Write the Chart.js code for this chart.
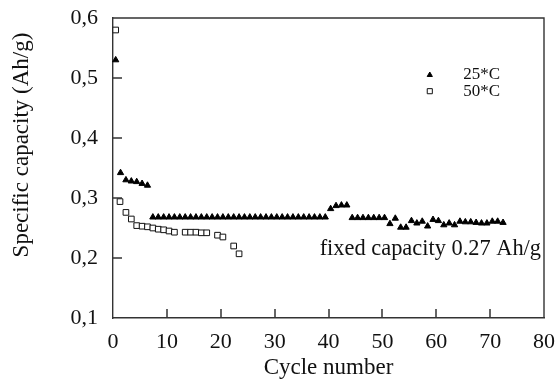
<!DOCTYPE html>
<html lang="en">
<head>
  <meta charset="UTF-8">
  <title>Specific capacity vs cycle number</title>
  <script src="https://cdn.jsdelivr.net/npm/chart.js@4.4.0/dist/chart.umd.min.js"></script>
  <style>
    html, body { margin: 0; padding: 0; background: #fff; }
    #wrap { width: 560px; height: 382px; }
  </style>
</head>
<body>
  <div id="wrap"><canvas id="chart" width="560" height="382"></canvas></div>

  <script>
    // 25*C (filled triangles)
    const cycles25 = [0.5, 1.4, 2.4, 3.4, 4.4, 5.4, 6.4, 7.4, 8.4, 9.4, 10.4, 11.4, 12.4, 13.4, 14.4,
      15.4, 16.4, 17.4, 18.4, 19.4, 20.4, 21.4, 22.4, 23.4, 24.4, 25.4, 26.4, 27.4, 28.4, 29.4,
      30.4, 31.4, 32.4, 33.4, 34.4, 35.4, 36.4, 37.4, 38.4, 39.4, 40.4, 41.4, 42.4, 43.4, 44.4,
      45.4, 46.4, 47.4, 48.4, 49.4, 50.4, 51.4, 52.4, 53.4, 54.4, 55.4, 56.4, 57.4, 58.4, 59.4,
      60.4, 61.4, 62.4, 63.4, 64.4, 65.4, 66.4, 67.4, 68.4, 69.4, 70.4, 71.4, 72.4];
    const capacity25 = [0.530, 0.342, 0.330, 0.328, 0.327, 0.324, 0.321,
      0.268, 0.268, 0.268, 0.268, 0.268, 0.268, 0.268, 0.268, 0.268, 0.268, 0.268,
      0.268, 0.268, 0.268, 0.268, 0.268, 0.268, 0.268, 0.268, 0.268, 0.268, 0.268,
      0.268, 0.268, 0.268, 0.268, 0.268, 0.268, 0.268, 0.268, 0.268, 0.268, 0.268,
      0.282, 0.287, 0.288, 0.288,
      0.267, 0.267, 0.267, 0.267, 0.267, 0.267, 0.267,
      0.257, 0.266, 0.251, 0.251, 0.262, 0.258, 0.261, 0.253, 0.264, 0.262, 0.255,
      0.258, 0.255, 0.261, 0.260, 0.260, 0.259, 0.258, 0.258, 0.261, 0.261, 0.259];

    // 50*C (open squares)
    const cycles50 = [0.5, 1.3, 2.4, 3.4, 4.4, 5.4, 6.4, 7.4, 8.4, 9.4, 10.4, 11.4,
      13.4, 14.4, 15.4, 16.4, 17.4, 19.4, 20.4, 22.4, 23.4];
    const capacity50 = [0.580, 0.294, 0.276, 0.265, 0.254, 0.253, 0.252, 0.250, 0.248, 0.247,
      0.245, 0.243, 0.243, 0.243, 0.243, 0.242, 0.242, 0.238, 0.235, 0.220, 0.207];

    const seriesLabels = ['25*C', '50*C'];
    const xTicks = [0, 10, 20, 30, 40, 50, 60, 70, 80];
    const xTickLabels = ['0', '10', '20', '30', '40', '50', '60', '70', '80'];
    const yTicks = [0.1, 0.2, 0.3, 0.4, 0.5, 0.6];
    const yTickLabels = ['0,1', '0,2', '0,3', '0,4', '0,5', '0,6'];
    const noteText = 'fixed capacity 0.27 Ah/g';

    const serif = '"Liberation Serif", "DejaVu Serif", serif';
    const frameColor = '#333';
    Chart.defaults.font.family = serif;
    Chart.defaults.color = '#111';

    const toPoints = (xs, ys) => xs.map((x, i) => ({ x: x, y: ys[i] }));

    // top and right side of the box, plus the short inward ticks
    const frame = {
      id: 'frame',
      afterDatasetsDraw(chart) {
        const ctx = chart.ctx;
        const a = chart.chartArea;
        const xs = chart.scales.x;
        const ys = chart.scales.y;
        ctx.save();
        ctx.strokeStyle = frameColor;
        ctx.lineWidth = 1.4;
        ctx.beginPath();
        ctx.moveTo(a.left, a.top);
        ctx.lineTo(a.right, a.top);
        ctx.lineTo(a.right, a.bottom);
        ctx.stroke();
        ctx.lineWidth = 1.5;
        ctx.beginPath();
        xTicks.slice(1, -1).forEach(v => {
          const px = Math.round(xs.getPixelForValue(v));
          ctx.moveTo(px, a.bottom);
          ctx.lineTo(px, a.bottom - 9);
        });
        yTicks.slice(1, -1).forEach(v => {
          const py = Math.round(ys.getPixelForValue(v));
          ctx.moveTo(a.left, py);
          ctx.lineTo(a.left + 9, py);
        });
        ctx.stroke();
        ctx.restore();
      }
    };

    // legend, note and y title
    const decor = {
      id: 'decor',
      afterDraw(chart) {
        const ctx = chart.ctx;
        const a = chart.chartArea;
        const xs = chart.scales.x;
        const ys = chart.scales.y;
        ctx.save();
        const ds = chart.data.datasets;
        const lx = xs.getPixelForValue(58.8);
        const tx = xs.getPixelForValue(65);
        [0.505, 0.478].forEach((v, i) => {
          const py = ys.getPixelForValue(v);
          const d = ds[i];
          ctx.fillStyle = d.pointBackgroundColor;
          ctx.strokeStyle = d.pointBorderColor;
          ctx.lineWidth = 1;
          Chart.helpers.drawPoint(ctx, {
            pointStyle: d.pointStyle,
            radius: i === 0 ? 3 : 3.6,
            borderWidth: 1
          }, lx, py);
          ctx.fillStyle = '#111';
          ctx.font = '17px ' + serif;
          ctx.textAlign = 'left';
          ctx.textBaseline = 'middle';
          ctx.fillText(seriesLabels[i], tx, py);
        });

        ctx.fillStyle = '#111';
        ctx.font = '22.4px ' + serif;
        ctx.textAlign = 'right';
        ctx.textBaseline = 'middle';
        ctx.fillText(noteText, a.right - 3, ys.getPixelForValue(0.215));

        ctx.translate(22, 145);
        ctx.rotate(-Math.PI / 2);
        ctx.textAlign = 'center';
        ctx.font = '23px ' + serif;
        ctx.fillText('Specific capacity (Ah/g)', 0, 0);
        ctx.restore();
      }
    };

    new Chart(document.getElementById('chart'), {
      type: 'scatter',
      data: {
        datasets: [
          {
            label: seriesLabels[0],
            data: toPoints(cycles25, capacity25),
            pointStyle: 'triangle',
            pointRadius: 3.6,
            pointBackgroundColor: '#000',
            pointBorderColor: '#000',
            pointBorderWidth: 1,
            clip: false
          },
          {
            label: seriesLabels[1],
            data: toPoints(cycles50, capacity50),
            pointStyle: 'rect',
            pointRadius: 4,
            pointBackgroundColor: '#fff',
            pointBorderColor: '#111',
            pointBorderWidth: 1,
            clip: false
          }
        ]
      },
      options: {
        responsive: false,
        animation: false,
        layout: { padding: { top: 18, right: 16, bottom: 0, left: 0 } },
        plugins: {
          legend: { display: false },
          tooltip: { enabled: false }
        },
        scales: {
          x: {
            type: 'linear',
            min: 0,
            max: 80,
            afterBuildTicks: s => { s.ticks = xTicks.map(v => ({ value: v })); },
            afterFit: s => { s.height = 64; s.paddingLeft = 0; s.paddingRight = 0; },
            grid: { display: false, drawTicks: false },
            border: { display: true, color: frameColor, width: 1.4 },
            ticks: {
              padding: 11,
              maxRotation: 0,
              font: { size: 22 },
              callback: (v, i) => xTickLabels[i]
            },
            title: {
              display: true,
              text: 'Cycle number',
              font: { size: 23 },
              padding: { top: 0, bottom: 0 }
            }
          },
          y: {
            min: 0.1,
            max: 0.6,
            afterBuildTicks: s => { s.ticks = yTicks.map(v => ({ value: v })); },
            afterFit: s => { s.width = 113; s.paddingTop = 0; s.paddingBottom = 0; },
            grid: { display: false, drawTicks: false },
            border: { display: true, color: frameColor, width: 1.4 },
            ticks: {
              padding: 15,
              font: { size: 22 },
              callback: (v, i) => yTickLabels[i]
            }
          }
        }
      },
      plugins: [frame, decor]
    });
  </script>
</body>
</html>
